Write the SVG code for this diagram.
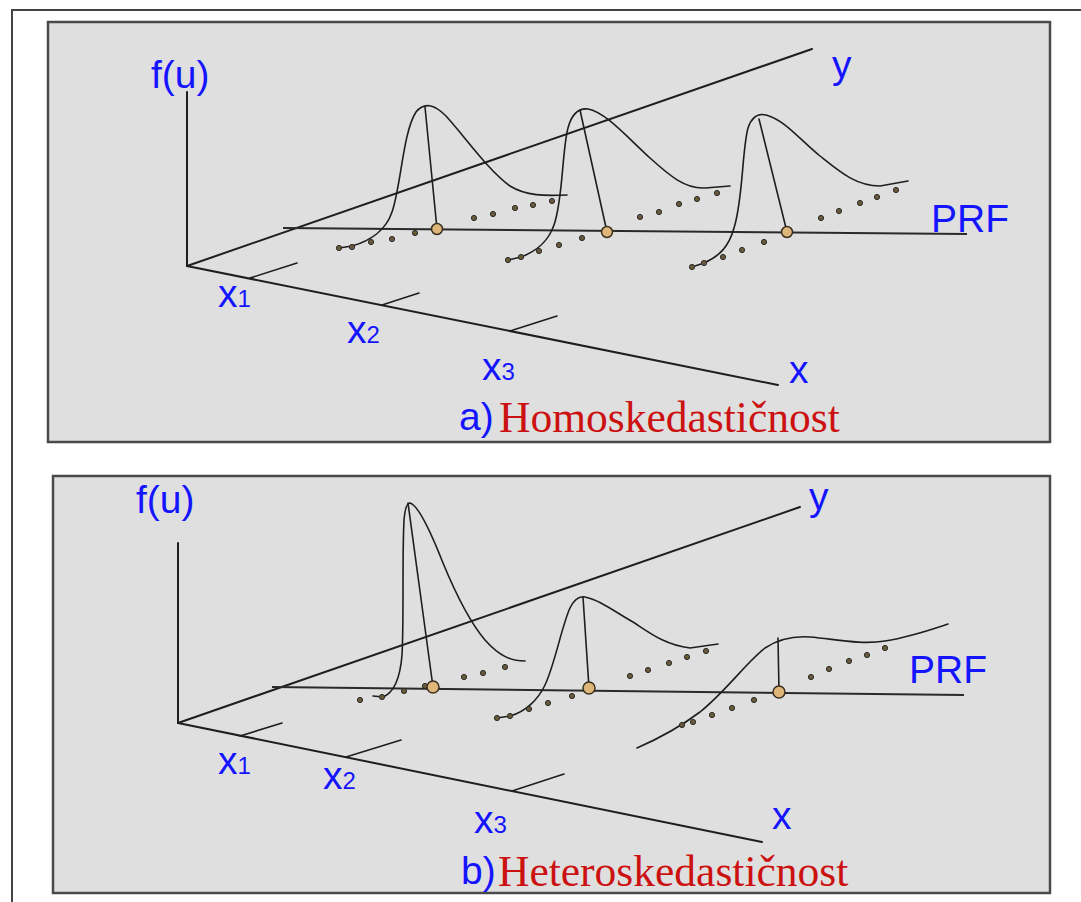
<svg xmlns="http://www.w3.org/2000/svg" width="1081" height="902" viewBox="0 0 1081 902">
<style>
.panel{fill:#dfdfdf;stroke:#4a4a4a;stroke-width:2.5}
.ax{stroke:#1e1e1e;stroke-width:2;fill:none;stroke-linecap:round}
.ln{stroke:#1e1e1e;stroke-width:1.6;fill:none;stroke-linecap:round}
.prf{stroke:#2a2a2a;stroke-width:2;fill:none}
.dot{fill:#6b5a3a;stroke:#2a2a2a;stroke-width:1}
.ctr{fill:#deb678;stroke:#3a3020;stroke-width:1.5}
.lbl{font-family:"Liberation Sans",Arial,sans-serif;fill:#1414ff;font-size:39px}
.sub{font-size:24px}
.ttl{font-family:"Liberation Serif","Times New Roman",serif;fill:#cc1111;font-size:43.5px}
</style>
<rect x="12" y="10" width="1100" height="1000" fill="#ffffff" stroke="#444" stroke-width="2"/>

<g id="panel-a">
  <rect class="panel" x="48" y="22" width="1002" height="420"/>
  <g id="axes-a">
    <line class="ax" x1="187" y1="92" x2="187" y2="266"/>
    <line class="ax" x1="187" y1="266" x2="812" y2="49"/>
    <line class="ax" x1="187" y1="266" x2="778" y2="385"/>
    <line class="ln" x1="250" y1="278" x2="297" y2="263"/>
    <line class="ln" x1="382" y1="305" x2="419" y2="293"/>
    <line class="ln" x1="510" y1="331" x2="557" y2="316"/>
    <line class="prf" x1="283" y1="228" x2="967" y2="234"/>
  </g>
  <g id="curves-a">
    <path class="ln" d="M339,248 L352,246 C370,241 386,230 392,212 C401,186 403,132 416,112 C424,102 434,104 446,116 C466,138 488,170 510,186 C526,196 545,196 567,195"/>
    <path class="ln" d="M508,260 L521,257 C537,251 548,242 554,225 C563,200 562,150 568,128 C572,113 579,108 588,109 C605,112 625,135 650,158 C670,176 685,189 705,188 L730,186"/>
    <path class="ln" d="M692,267 L704,263 C720,256 729,246 734,228 C743,200 742,150 748,128 C752,116 758,113 766,115 C785,120 800,140 820,156 C840,172 856,186 880,186 L908,181"/>
    <line class="ln" x1="425" y1="107" x2="437" y2="229"/>
    <line class="ln" x1="580" y1="110" x2="607" y2="232"/>
    <line class="ln" x1="759" y1="119" x2="787" y2="232"/>
  </g>
  <g id="dots-a">
    <circle class="dot" cx="339" cy="248" r="2.6"/><circle class="dot" cx="352" cy="247" r="2.6"/><circle class="dot" cx="371" cy="242" r="2.6"/><circle class="dot" cx="392" cy="239" r="2.6"/><circle class="dot" cx="415" cy="233" r="2.6"/>
    <circle class="dot" cx="474" cy="218" r="2.6"/><circle class="dot" cx="493" cy="214" r="2.6"/><circle class="dot" cx="515" cy="208" r="2.6"/><circle class="dot" cx="533" cy="205" r="2.6"/><circle class="dot" cx="552" cy="201" r="2.6"/>
    <circle class="dot" cx="508" cy="260" r="2.6"/><circle class="dot" cx="521" cy="257" r="2.6"/><circle class="dot" cx="539" cy="251" r="2.6"/><circle class="dot" cx="559" cy="245" r="2.6"/><circle class="dot" cx="582" cy="238" r="2.6"/>
    <circle class="dot" cx="640" cy="217" r="2.6"/><circle class="dot" cx="659" cy="212" r="2.6"/><circle class="dot" cx="679" cy="204" r="2.6"/><circle class="dot" cx="697" cy="199" r="2.6"/><circle class="dot" cx="717" cy="193" r="2.6"/>
    <circle class="dot" cx="692" cy="267" r="2.6"/><circle class="dot" cx="704" cy="263" r="2.6"/><circle class="dot" cx="723" cy="257" r="2.6"/><circle class="dot" cx="742" cy="250" r="2.6"/><circle class="dot" cx="764" cy="242" r="2.6"/>
    <circle class="dot" cx="821" cy="218" r="2.6"/><circle class="dot" cx="839" cy="211" r="2.6"/><circle class="dot" cx="860" cy="203" r="2.6"/><circle class="dot" cx="877" cy="197" r="2.6"/><circle class="dot" cx="896" cy="190" r="2.6"/>
    <circle class="ctr" cx="437" cy="229" r="5.5"/><circle class="ctr" cx="607" cy="232" r="5.5"/><circle class="ctr" cx="787" cy="232" r="5.5"/>
  </g>
  <g id="labels-a">
    <text class="lbl" x="151" y="88">f(u)</text>
    <text class="lbl" x="832" y="78">y</text>
    <text class="lbl" x="931" y="232">PRF</text>
    <text class="lbl" x="789" y="383">x</text>
    <text class="lbl" x="218" y="307">x<tspan class="sub">1</tspan></text>
    <text class="lbl" x="347" y="343">x<tspan class="sub">2</tspan></text>
    <text class="lbl" x="482" y="380">x<tspan class="sub">3</tspan></text>
    <text class="lbl" x="459" y="430">a)</text>
    <text class="ttl" x="499" y="432">Homoskedastičnost</text>
  </g>
</g>

<g id="panel-b">
  <rect class="panel" x="53" y="476" width="997" height="417"/>
  <g id="axes-b">
    <line class="ax" x1="178" y1="543" x2="178" y2="723"/>
    <line class="ax" x1="178" y1="723" x2="800" y2="507"/>
    <line class="ax" x1="178" y1="723" x2="762" y2="842"/>
    <line class="ln" x1="240" y1="736" x2="282" y2="723"/>
    <line class="ln" x1="346" y1="757" x2="401" y2="740"/>
    <line class="ln" x1="512" y1="791" x2="564" y2="774"/>
    <line class="prf" x1="272" y1="687" x2="964" y2="695"/>
  </g>
  <g id="curves-b">
    <path class="ln" d="M373,696 L383,697 C393,693 400,680 402,655 C404,620 402,560 404,520 C405,508 407,503 410,503 C418,505 430,530 443,563 C455,592 468,620 485,640 C500,657 512,661 525,661"/>
    <path class="ln" d="M497,718 L510,716 C525,712 538,700 545,685 C555,664 562,625 570,608 C575,598 580,596 585,597 C600,600 615,612 633,622 C650,633 665,645 690,648 L718,644"/>
    <path class="ln" d="M637,748 C660,738 680,727 700,712 C725,692 745,664 765,648 C780,638 795,636 810,637 C835,639 860,645 885,641 C910,637 930,630 948,624"/>
    <line class="ln" x1="408" y1="503" x2="433" y2="687"/>
    <line class="ln" x1="583" y1="597" x2="589" y2="688"/>
    <line class="ln" x1="778" y1="638" x2="779" y2="692"/>
  </g>
  <g id="dots-b">
    <circle class="dot" cx="360" cy="700" r="2.6"/><circle class="dot" cx="382" cy="697" r="2.6"/><circle class="dot" cx="404" cy="691" r="2.6"/><circle class="dot" cx="425" cy="686" r="2.6"/>
    <circle class="dot" cx="464" cy="677" r="2.6"/><circle class="dot" cx="483" cy="673" r="2.6"/><circle class="dot" cx="505" cy="667" r="2.6"/>
    <circle class="dot" cx="497" cy="718" r="2.6"/><circle class="dot" cx="510" cy="716" r="2.6"/><circle class="dot" cx="529" cy="709" r="2.6"/><circle class="dot" cx="548" cy="703" r="2.6"/><circle class="dot" cx="572" cy="696" r="2.6"/>
    <circle class="dot" cx="630" cy="676" r="2.6"/><circle class="dot" cx="648" cy="670" r="2.6"/><circle class="dot" cx="669" cy="663" r="2.6"/><circle class="dot" cx="687" cy="657" r="2.6"/><circle class="dot" cx="706" cy="651" r="2.6"/>
    <circle class="dot" cx="682" cy="725" r="2.6"/><circle class="dot" cx="693" cy="722" r="2.6"/><circle class="dot" cx="712" cy="715" r="2.6"/><circle class="dot" cx="732" cy="708" r="2.6"/><circle class="dot" cx="754" cy="700" r="2.6"/>
    <circle class="dot" cx="811" cy="677" r="2.6"/><circle class="dot" cx="829" cy="669" r="2.6"/><circle class="dot" cx="849" cy="661" r="2.6"/><circle class="dot" cx="867" cy="655" r="2.6"/><circle class="dot" cx="885" cy="648" r="2.6"/>
    <circle class="ctr" cx="433" cy="687" r="6"/><circle class="ctr" cx="589" cy="688" r="6"/><circle class="ctr" cx="779" cy="692" r="6"/>
  </g>
  <g id="labels-b">
    <text class="lbl" x="136" y="513">f(u)</text>
    <text class="lbl" x="809" y="510">y</text>
    <text class="lbl" x="909" y="683">PRF</text>
    <text class="lbl" x="772" y="829">x</text>
    <text class="lbl" x="218" y="774">x<tspan class="sub">1</tspan></text>
    <text class="lbl" x="323" y="789">x<tspan class="sub">2</tspan></text>
    <text class="lbl" x="474" y="833">x<tspan class="sub">3</tspan></text>
    <text class="lbl" x="461" y="884">b)</text>
    <text class="ttl" x="498" y="886">Heteroskedastičnost</text>
  </g>
</g>
</svg>
